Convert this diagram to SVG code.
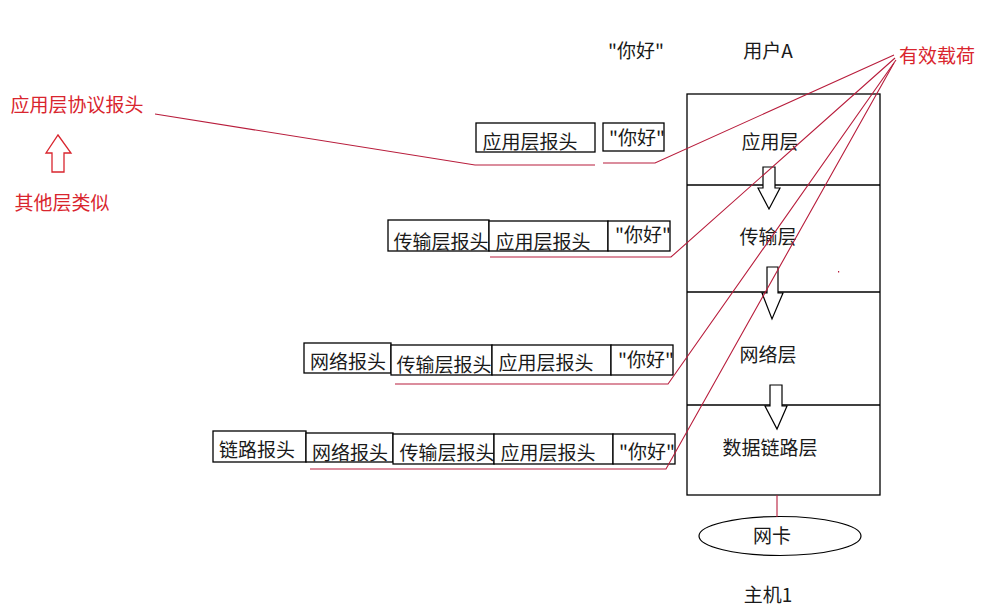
<svg xmlns="http://www.w3.org/2000/svg" width="996" height="612" viewBox="0 0 996 612">
<style>
text{font-family:"Noto Sans CJK SC","Liberation Sans",sans-serif;font-size:19px;fill:#1a1a1a;text-anchor:middle}
.red{fill:#d9252e}
.box{fill:#fff;stroke:#000;stroke-width:1.3}
.stack{fill:none;stroke:#000;stroke-width:1.3}
.arr{fill:#fff;stroke:#000;stroke-width:1.2}
.rl{fill:none;stroke:#b81d3c;stroke-width:1.1}
</style>
<rect width="996" height="612" fill="#fff"/>
<g id="labels-top">
<text x="636" y="58">"你好"</text>
<text x="768" y="58">用户A</text>
<text x="937" y="63" class="red">有效载荷</text>
</g>
<g id="legend">
<text x="77" y="112" class="red">应用层协议报头</text>
<path d="M58,135 L71,153 L64,153 L64,172 L52,172 L52,153 L46,153 Z" fill="#fff" stroke="#d9252e" stroke-width="1.3"/>
<text x="62" y="210" class="red">其他层类似</text>
</g>
<g id="stack">
<rect class="stack" x="687" y="94" width="193" height="401"/>
<line class="stack" x1="687" y1="185" x2="880" y2="185"/>
<line class="stack" x1="687" y1="292" x2="880" y2="292"/>
<line class="stack" x1="687" y1="405" x2="880" y2="405"/>
<text x="770" y="149">应用层</text>
<text x="768" y="244">传输层</text>
<text x="768" y="362">网络层</text>
<text x="770" y="455">数据链路层</text>
</g>
<g id="arrows">
<path class="arr" d="M763,167 L775,167 L775,188 L780,188 L769,209 L758,188 L763,188 Z"/>
<path class="arr" d="M767,267 L778,267 L778,293 L783,293 L772,319 L762,293 L767,293 Z"/>
<path class="arr" d="M770,385 L782,385 L782,406 L787,406 L777,429 L765,406 L770,406 Z"/>
</g>
<g id="nic">
<ellipse cx="780" cy="536" rx="81" ry="19.5" fill="#fff" stroke="#000" stroke-width="1.2"/>
<text x="772" y="543">网卡</text>
<text x="768" y="602">主机1</text>
</g>
<g id="row1">
<rect class="box" x="476" y="123" width="119" height="29"/>
<text x="530" y="149">应用层报头</text>
<rect class="box" x="603" y="123" width="61" height="28"/>
<text x="637" y="145">"你好"</text>
</g>
<g id="row2">
<rect class="box" x="388" y="220" width="101" height="31"/>
<text x="441" y="249">传输层报头</text>
<rect class="box" x="489" y="221" width="119" height="30"/>
<text x="543" y="249">应用层报头</text>
<rect class="box" x="608" y="221" width="62" height="30"/>
<text x="643" y="242">"你好"</text>
</g>
<g id="row3">
<rect class="box" x="304" y="343" width="87" height="30"/>
<text x="348" y="369">网络报头</text>
<rect class="box" x="391" y="345" width="101" height="30"/>
<text x="444" y="372">传输层报头</text>
<rect class="box" x="492" y="345" width="119" height="30"/>
<text x="546" y="370">应用层报头</text>
<rect class="box" x="611" y="345" width="62" height="30"/>
<text x="646" y="367">"你好"</text>
</g>
<g id="row4">
<rect class="box" x="213" y="431" width="93" height="31"/>
<text x="257" y="457">链路报头</text>
<rect class="box" x="306" y="433" width="87" height="29"/>
<text x="350" y="460">网络报头</text>
<rect class="box" x="393" y="434" width="101" height="30"/>
<text x="447" y="460">传输层报头</text>
<rect class="box" x="494" y="434" width="119" height="30"/>
<text x="548" y="460">应用层报头</text>
<rect class="box" x="613" y="434" width="62" height="30"/>
<text x="647" y="459">"你好"</text>
</g>
<g id="connectors">
<polyline class="rl" points="155,114 475,165 595,165"/>
<polyline class="rl" points="603,163 655,163 894,55"/>
<polyline class="rl" points="490,257 671,257 895,58"/>
<polyline class="rl" points="395,384 668,384 896,60"/>
<polyline class="rl" points="310,469 666,469 894,63"/>
<line class="rl" x1="777" y1="495" x2="777" y2="517"/>
<rect x="838" y="271" width="1.2" height="1.5" fill="#b81d3c"/>
</g>
</svg>
